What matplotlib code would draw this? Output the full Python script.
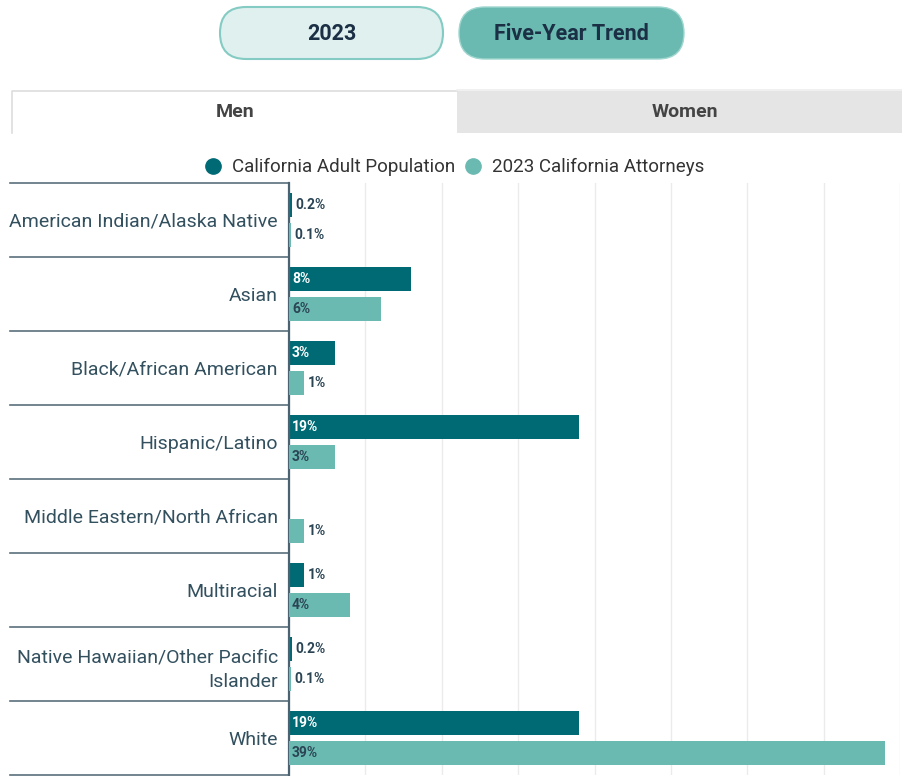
import matplotlib.pyplot as plt
from matplotlib.patches import FancyBboxPatch, Rectangle
from matplotlib.lines import Line2D
import matplotlib.transforms as mtransforms

plt.rcParams['font.family'] = ['Roboto', 'DejaVu Sans']

# data (percent of California men)
categories = ['American Indian/Alaska Native', 'Asian', 'Black/African American',
              'Hispanic/Latino', 'Middle Eastern/North African', 'Multiracial',
              'Native Hawaiian/Other Pacific\nIslander', 'White']
population = [0.2, 8, 3, 19, None, 1, 0.2, 19]
attorneys = [0.1, 6, 1, 3, 1, 4, 0.1, 39]
pop_labels = ['0.2%', '8%', '3%', '19%', '', '1%', '0.2%', '19%']
att_labels = ['0.1%', '6%', '1%', '3%', '1%', '4%', '0.1%', '39%']
series_names = ['California Adult Population', '2023 California Attorneys']

dark = '#006a74'
light = '#6bbab1'
text_dark = '#2b4555'

fig = plt.figure(figsize=(9.02, 7.76), dpi=100)

# background layer in pixel coordinates for buttons / tabs / legend
bg = fig.add_axes([0, 0, 1, 1])
bg.set_xlim(0, 902)
bg.set_ylim(776, 0)
bg.axis('off')

# pill buttons
bg.add_patch(FancyBboxPatch((220, 7), 223, 52, boxstyle='round,pad=0,rounding_size=26',
                            fc='#e0f0ef', ec='#84cbc3', lw=1.5))
bg.add_patch(FancyBboxPatch((459, 7), 225, 52, boxstyle='round,pad=0,rounding_size=26',
                            fc=light, ec='#9fd6cf', lw=1.0))
bg.text(332, 34, '2023', ha='center', va='center', fontsize=15.5, fontweight='bold', color='#1b2f45')
bg.text(571, 34, 'Five-Year Trend', ha='center', va='center', fontsize=15.5, fontweight='bold', color='#1b2f45')

# tabs
bg.add_patch(Rectangle((457, 91), 445, 42, fc='#e5e5e5', ec='none'))
bg.add_patch(Rectangle((12, 91), 445, 42, fc='white', ec='none'))
bg.plot([12, 12, 457], [133, 91, 91], color='#dddddd', lw=1.2)
bg.plot([457, 902], [90, 90], color='#eeeeee', lw=1.2)
bg.text(235, 112, 'Men', ha='center', va='center', fontsize=14, fontweight='bold', color='#444444')
bg.text(685, 112, 'Women', ha='center', va='center', fontsize=14, fontweight='bold', color='#444444')

# legend
bg.plot([213], [166], 'o', ms=11, color=dark)
bg.text(232, 167, series_names[0], ha='left', va='center', fontsize=13.5, color='#333333')
bg.plot([473], [166], 'o', ms=11, color=light)
bg.text(492, 167, series_names[1], ha='left', va='center', fontsize=13.5, color='#333333')

# main chart
ax = fig.add_axes([289 / 902, 1 - 775 / 776, 611 / 902, 592 / 776])
ax.set_xlim(0, 40)
ax.set_ylim(len(categories) - 0.5, -0.5)

h = 0.32
off = 0.205
fs = 10
for i, (p, a) in enumerate(zip(population, attorneys)):
    if p is not None:
        ax.barh(i - off, p, height=h, color=dark, zorder=3)
        if p >= 2:
            ax.text(0.2, i - off, pop_labels[i], ha='left', va='center', fontsize=fs,
                    fontweight='bold', color='white', zorder=4)
        else:
            ax.text(p + 0.25, i - off, pop_labels[i], ha='left', va='center', fontsize=fs,
                    fontweight='bold', color=text_dark, zorder=4)
    ax.barh(i + off, a, height=h, color=light, zorder=6)
    if a >= 2:
        ax.text(0.2, i + off, att_labels[i], ha='left', va='center', fontsize=fs,
                fontweight='bold', color=text_dark, zorder=7)
    else:
        ax.text(a + 0.25, i + off, att_labels[i], ha='left', va='center', fontsize=fs,
                fontweight='bold', color=text_dark, zorder=7)

ax.set_xticks(range(0, 41, 5))
ax.grid(axis='x', color='#ebebeb', lw=1, zorder=0)
ax.tick_params(axis='x', length=0, labelbottom=False)
ax.set_yticks(range(len(categories)))
ax.set_yticklabels(categories, fontsize=14, color='#33505f', linespacing=1.5)
ax.tick_params(axis='y', length=0, pad=8)
for s in ['top', 'right', 'bottom']:
    ax.spines[s].set_visible(False)
ax.spines['left'].set_color('#4a6272')
ax.spines['left'].set_linewidth(1.6)
ax.spines['left'].set_zorder(5)

# row separators to the left of the axis
trans = mtransforms.blended_transform_factory(ax.transAxes, ax.transData)
left_x = (10 - 289) / 611
for b in range(len(categories) + 1):
    ax.add_line(Line2D([left_x, 0], [b - 0.5, b - 0.5], transform=trans,
                       color='#5a6f7c', lw=1.2, clip_on=False))

fig.savefig('out.png', dpi=100)
